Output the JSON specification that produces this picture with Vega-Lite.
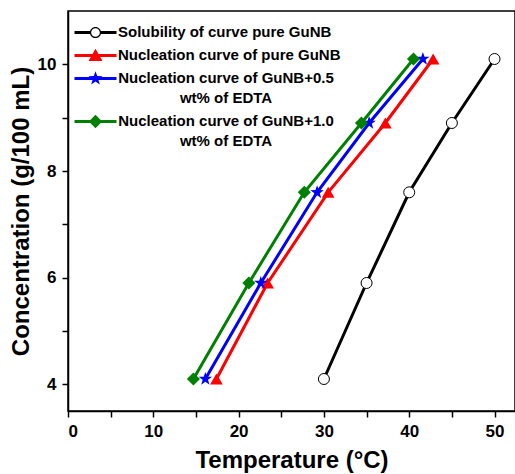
{
  "$schema": "https://vega.github.io/schema/vega-lite/v6.json",
  "width": 447,
  "height": 400,
  "autosize": "none",
  "padding": {"left": 68, "top": 11, "right": 0, "bottom": 63},
  "config": {
    "view": {"stroke": "black", "strokeWidth": 1.5},
    "font": "Liberation Sans",
    "axis": {
      "grid": false,
      "domainColor": "black",
      "domainWidth": 1.5,
      "tickColor": "black",
      "tickWidth": 1.5,
      "tickSize": 6,
      "labelFont": "Liberation Sans",
      "labelFontWeight": "bold",
      "labelFontSize": 17,
      "labelColor": "black",
      "titleFont": "Liberation Sans",
      "titleFontWeight": "bold",
      "titleFontSize": 24,
      "titleColor": "black"
    }
  },
  "data": {
    "values": [
      {"series": "Solubility of curve pure GuNB", "t": 30.0, "c": 4.1},
      {"series": "Solubility of curve pure GuNB", "t": 35.0, "c": 5.9},
      {"series": "Solubility of curve pure GuNB", "t": 40.0, "c": 7.6},
      {"series": "Solubility of curve pure GuNB", "t": 45.0, "c": 8.9},
      {"series": "Solubility of curve pure GuNB", "t": 50.0, "c": 10.1},
      {"series": "Nucleation curve of pure GuNB", "t": 17.4, "c": 4.1},
      {"series": "Nucleation curve of pure GuNB", "t": 23.4, "c": 5.9},
      {"series": "Nucleation curve of pure GuNB", "t": 30.5, "c": 7.6},
      {"series": "Nucleation curve of pure GuNB", "t": 37.2, "c": 8.9},
      {"series": "Nucleation curve of pure GuNB", "t": 42.8, "c": 10.1},
      {"series": "Nucleation curve of GuNB+0.5 wt% of EDTA", "t": 16.1, "c": 4.1},
      {"series": "Nucleation curve of GuNB+0.5 wt% of EDTA", "t": 22.6, "c": 5.9},
      {"series": "Nucleation curve of GuNB+0.5 wt% of EDTA", "t": 29.2, "c": 7.6},
      {"series": "Nucleation curve of GuNB+0.5 wt% of EDTA", "t": 35.3, "c": 8.9},
      {"series": "Nucleation curve of GuNB+0.5 wt% of EDTA", "t": 41.6, "c": 10.1},
      {"series": "Nucleation curve of GuNB+1.0 wt% of EDTA", "t": 14.7, "c": 4.1},
      {"series": "Nucleation curve of GuNB+1.0 wt% of EDTA", "t": 21.2, "c": 5.9},
      {"series": "Nucleation curve of GuNB+1.0 wt% of EDTA", "t": 27.7, "c": 7.6},
      {"series": "Nucleation curve of GuNB+1.0 wt% of EDTA", "t": 34.4, "c": 8.9},
      {"series": "Nucleation curve of GuNB+1.0 wt% of EDTA", "t": 40.5, "c": 10.1}
    ]
  },
  "resolve": {"axis": {"x": "independent", "y": "independent"}},
  "layer": [
    {
      "mark": {"type": "line", "strokeWidth": 3},
      "encoding": {
        "x": {
          "field": "t", "type": "quantitative",
          "scale": {"domain": [0, 52.4], "nice": false, "zero": false},
          "axis": {"orient": "bottom", "values": [0, 10, 20, 30, 40, 50], "title": "Temperature (°C)", "labelPadding": 6, "titlePadding": 9}
        },
        "y": {
          "field": "c", "type": "quantitative",
          "scale": {"domain": [3.5, 11], "nice": false, "zero": false},
          "axis": {"orient": "left", "values": [4, 6, 8, 10], "title": "Concentration (g/100 mL)", "labelPadding": 6, "titlePadding": 4}
        },
        "color": {
          "field": "series", "type": "nominal",
          "scale": {
            "domain": ["Solubility of curve pure GuNB", "Nucleation curve of pure GuNB", "Nucleation curve of GuNB+0.5 wt% of EDTA", "Nucleation curve of GuNB+1.0 wt% of EDTA"],
            "range": ["black", "#ff0000", "#0000ff", "#008000"]
          },
          "legend": {
            "title": null,
            "orient": "none",
            "legendX": 20,
            "legendY": 14,
            "padding": 0,
            "symbolSize": 196,
            "labelFont": "Liberation Sans",
            "labelFontWeight": "bold",
            "labelFontSize": 15,
            "labelColor": "black",
            "labelLimit": 400,
            "labelOffset": 15,
            "rowPadding": 7,
            "labelBaseline": "top",
            "labelExpr": "datum.label == 'Nucleation curve of GuNB+0.5 wt% of EDTA' ? ['Nucleation curve of GuNB+0.5', 'wt% of EDTA'] : datum.label == 'Nucleation curve of GuNB+1.0 wt% of EDTA' ? ['Nucleation curve of GuNB+1.0', 'wt% of EDTA'] : datum.label",
            "encode": {
              "labels": {
                "update": {
                  "dy": {"value": -8},
                  "lineHeight": {"value": 20},
                  "align": {"signal": "indexof(datum.value, 'EDTA') >= 0 ? 'center' : 'left'"},
                  "dx": {"signal": "indexof(datum.value, 'EDTA') >= 0 ? 108 : 0"}
                }
              },
              "symbols": {
                "update": {
                  "size": {"value": 196},
                  "strokeWidth": {"value": 0},
                  "fill": {"scale": "color", "field": "value"},
                  "fillOpacity": {"value": 1},
                  "shape": {"signal": "datum.value == 'Solubility of curve pure GuNB' ? 'M-3,-0.21L-0.7,-0.21L-0.7,0.21L-3,0.21Z M0.7,-0.21L3,-0.21L3,0.21L0.7,0.21Z M-0.8,0A0.8,0.8 0 1,1 0.8,0A0.8,0.8 0 1,1 -0.8,0Z M-0.62,0A0.62,0.62 0 1,0 0.62,0A0.62,0.62 0 1,0 -0.62,0Z' : datum.value == 'Nucleation curve of pure GuNB' ? 'M-3,-0.21L3,-0.21L3,0.21L-3,0.21Z M-1,0.8L0,-0.95L1,0.8Z' : datum.value == 'Nucleation curve of GuNB+0.5 wt% of EDTA' ? 'M-3,-0.21L3,-0.21L3,0.21L-3,0.21Z M0,-1.05L0.247,-0.34L0.999,-0.324L0.399,0.13L0.617,0.849L0,0.42L-0.617,0.849L-0.399,0.13L-0.999,-0.324L-0.247,-0.34Z' : 'M-3,-0.21L3,-0.21L3,0.21L-3,0.21Z M0,-0.95L0.95,0L0,0.95L-0.95,0Z'"}
                }
              }
            }
          }
        }
      }
    },
    {
      "transform": [{"filter": "datum.series == 'Solubility of curve pure GuNB'"}],
      "mark": {"type": "point", "shape": "circle", "filled": false, "fill": "white", "stroke": "black", "strokeWidth": 1, "size": 121, "opacity": 1},
      "encoding": {
        "x": {
          "field": "t", "type": "quantitative",
          "axis": {"orient": "bottom", "values": [5, 15, 25, 35, 45], "labels": false, "title": null, "domain": false}
        },
        "y": {
          "field": "c", "type": "quantitative",
          "axis": {"orient": "left", "values": [5, 7, 9], "labels": false, "title": null, "domain": false}
        }
      }
    },
    {
      "transform": [{"filter": "datum.series == 'Nucleation curve of pure GuNB'"}],
      "mark": {"type": "point", "shape": "triangle-up", "filled": true, "color": "#ff0000", "size": 160, "opacity": 1},
      "encoding": {
        "x": {"field": "t", "type": "quantitative", "axis": null},
        "y": {"field": "c", "type": "quantitative", "axis": null}
      }
    },
    {
      "transform": [{"filter": "datum.series == 'Nucleation curve of GuNB+0.5 wt% of EDTA'"}],
      "mark": {"type": "point", "shape": "M0,-1.05L0.247,-0.34L0.999,-0.324L0.399,0.13L0.617,0.849L0,0.42L-0.617,0.849L-0.399,0.13L-0.999,-0.324L-0.247,-0.34Z", "filled": true, "color": "#0000ff", "size": 180, "opacity": 1},
      "encoding": {
        "x": {"field": "t", "type": "quantitative", "axis": null},
        "y": {"field": "c", "type": "quantitative", "axis": null}
      }
    },
    {
      "transform": [{"filter": "datum.series == 'Nucleation curve of GuNB+1.0 wt% of EDTA'"}],
      "mark": {"type": "point", "shape": "diamond", "filled": true, "color": "#008000", "size": 170, "opacity": 1},
      "encoding": {
        "x": {"field": "t", "type": "quantitative", "axis": null},
        "y": {"field": "c", "type": "quantitative", "axis": null}
      }
    }
  ]
}
